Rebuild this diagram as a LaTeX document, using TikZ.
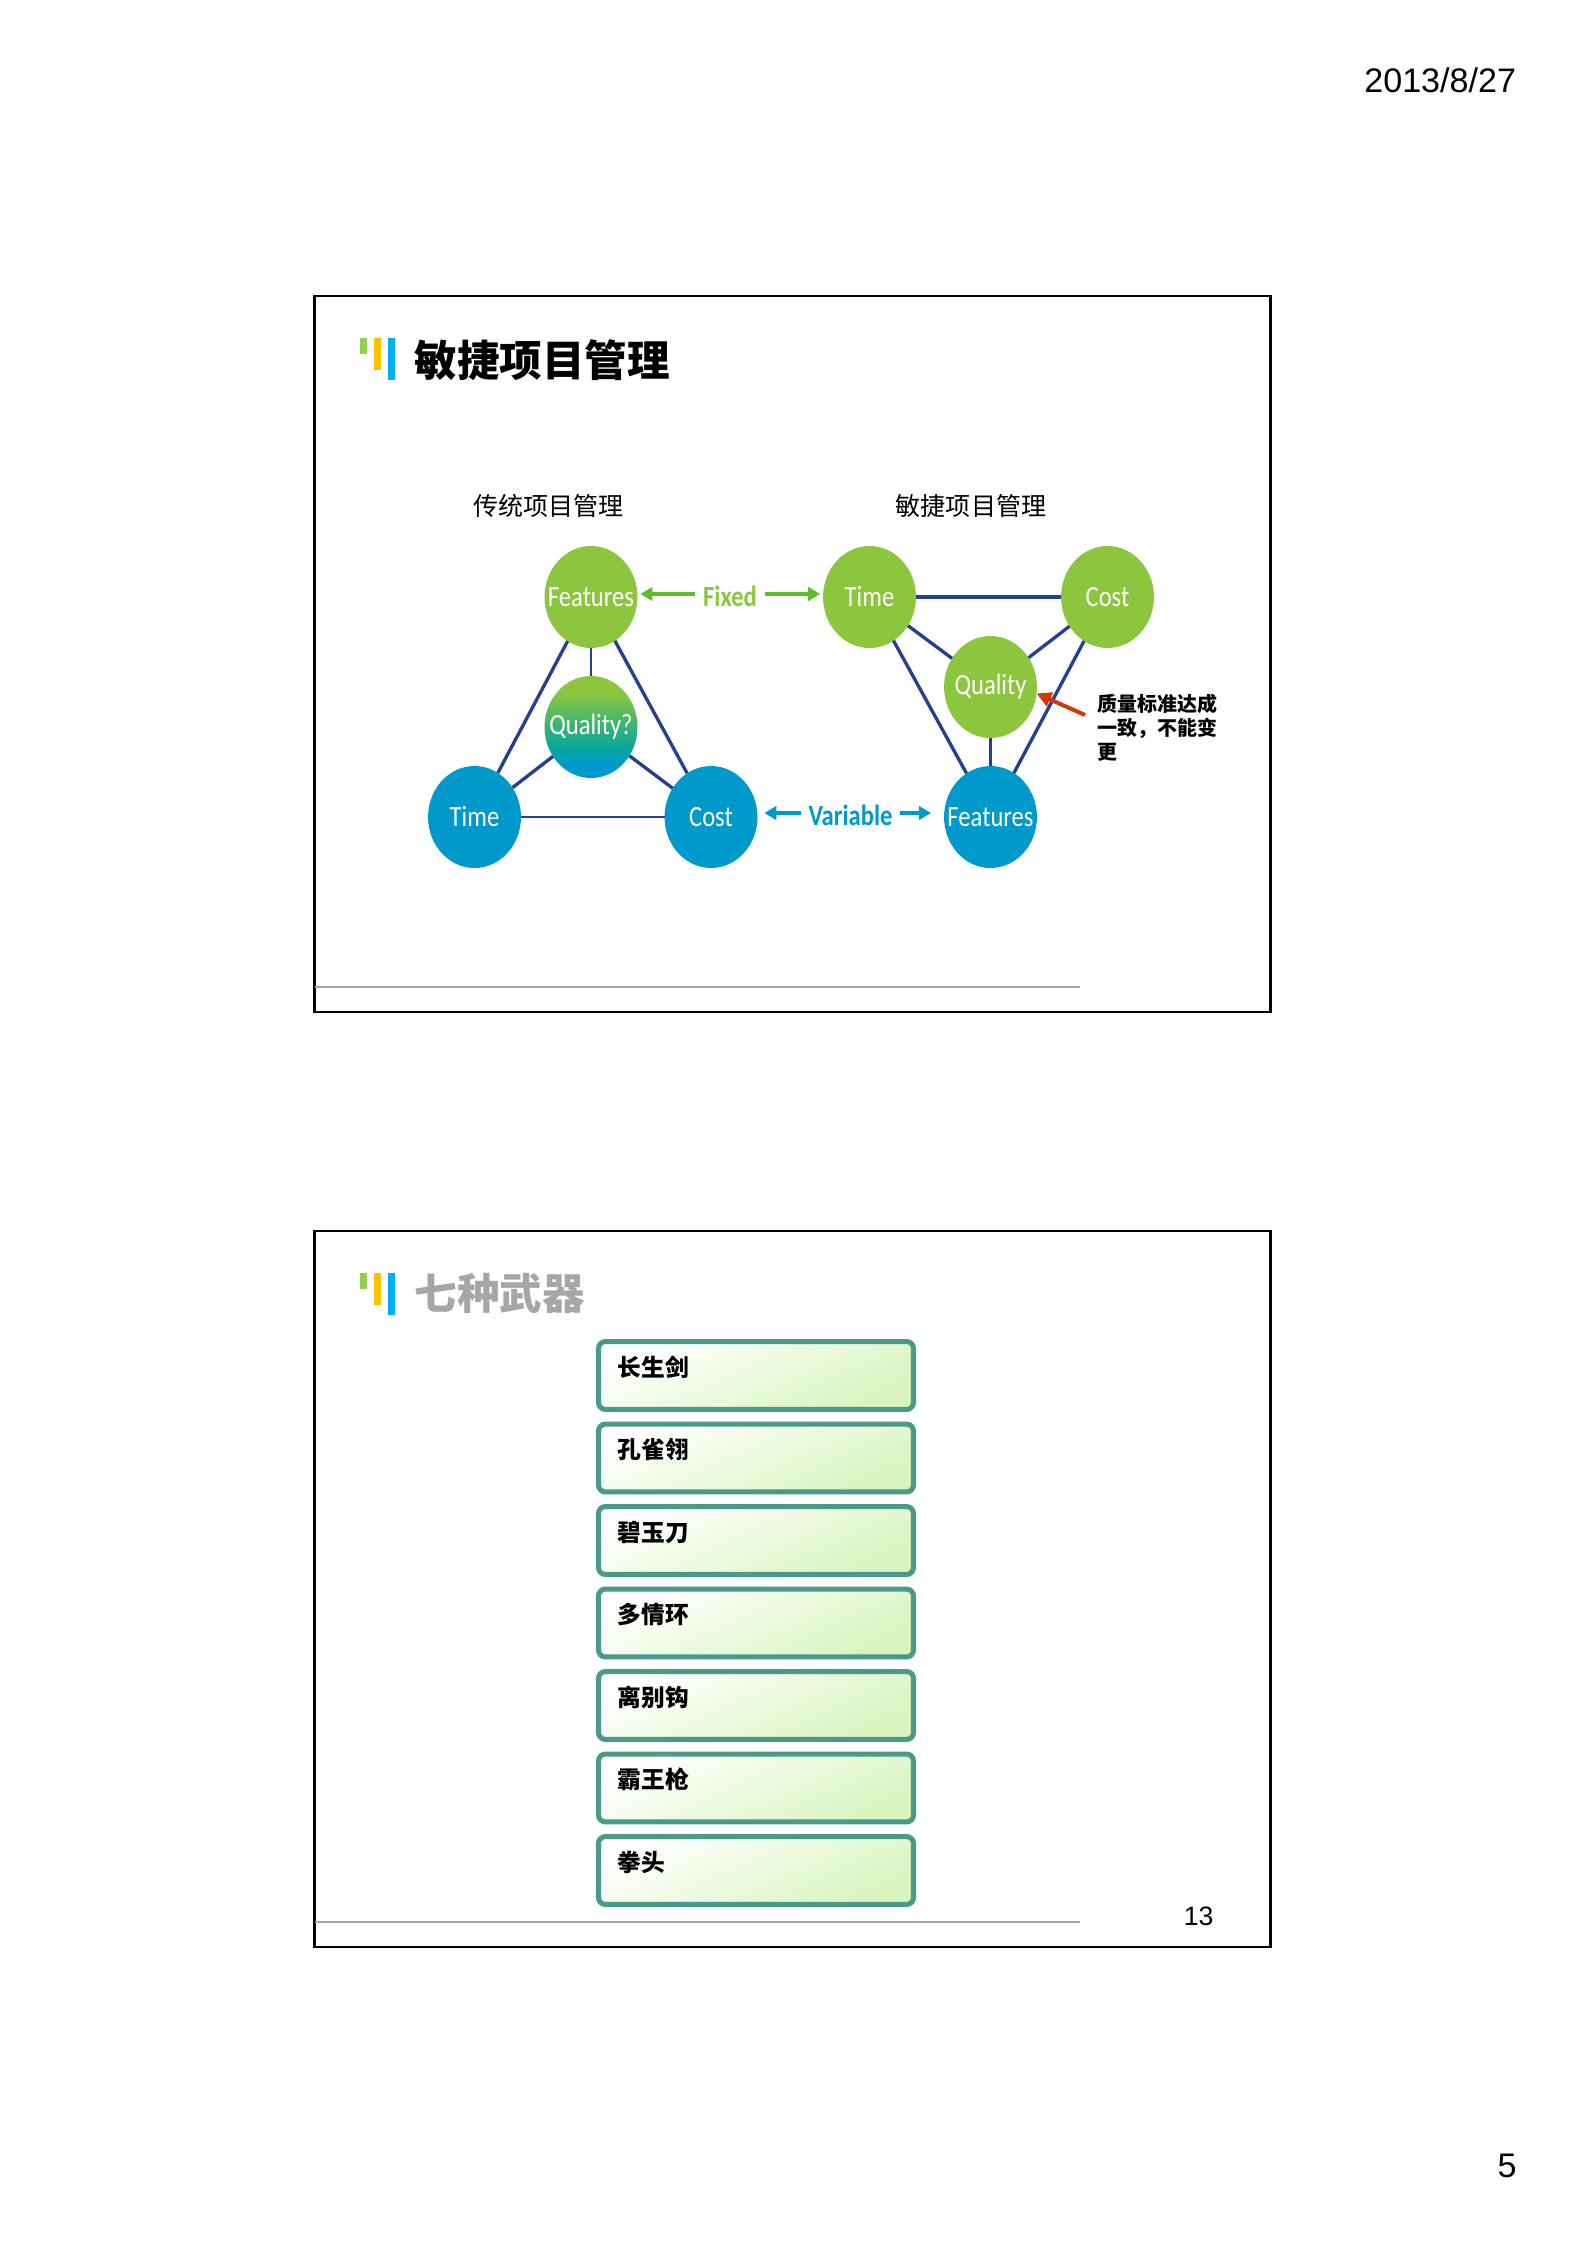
\documentclass[tikz,border=0pt]{standalone}
\usepackage{fontspec}
\setmainfont{Liberation Sans}
\newfontfamily\cjk{Noto Sans CJK SC}
\newfontfamily\circfont[FakeStretch=0.84]{Carlito}
\usetikzlibrary{shapes.geometric,arrows.meta}

\definecolor{leafgreen}{HTML}{8CC63F}
\definecolor{seablue}{HTML}{0099CC}
\definecolor{midteal}{HTML}{05A89A}
\definecolor{linkblue}{HTML}{24408E}
\definecolor{arrowgreen}{HTML}{5CBF2A}
\definecolor{arrowred}{HTML}{D03A0A}
\definecolor{boxedge}{HTML}{4A9A8A}
\definecolor{boxfill}{HTML}{D9F4BE}
\definecolor{rulegray}{HTML}{A6A6A6}
\definecolor{barone}{HTML}{92D050}
\definecolor{bartwo}{HTML}{FFC000}
\definecolor{barthree}{HTML}{00B0F0}
\pgfdeclareverticalshading{qualityshade}{100bp}{color(0bp)=(seablue); color(32bp)=(seablue); color(40bp)=(midteal); color(67bp)=(leafgreen); color(100bp)=(leafgreen)}
\newcommand{\balltext}[1]{\makebox[0pt][c]{#1}}

\tikzset{
  ball/.style={ellipse, minimum width=34.9pt, minimum height=38.3pt, inner sep=0pt, outer sep=0pt,
    text=white, font=\circfont\fontsize{11}{11}\selectfont},
  greenball/.style={ball, fill=leafgreen},
  blueball/.style={ball, fill=seablue},
  link/.style={draw=linkblue, line width=1.25pt},
  thinlink/.style={draw=linkblue, line width=0.85pt},
  caption/.style={font=\cjk\fontsize{9.4}{9.4}\selectfont, inner sep=0pt},
  tag/.style={font=\circfont\bfseries\fontsize{11}{11}\selectfont, text height=9.4pt, text depth=0pt, inner ysep=0pt},
  fixedarrow/.style={draw=arrowgreen, line width=1.25pt, -{Triangle[length=4.5pt,width=5pt]}},
  variablearrow/.style={draw=seablue, line width=1.25pt, -{Triangle[length=4.5pt,width=5pt]}},
  weapon/.style={draw=boxedge, line width=1.9pt, rounded corners=2.6pt, shading=axis, top color=white,
    bottom color=boxfill, shading angle=25, text width=103.7pt, inner xsep=7.3pt, inner ysep=0pt,
    minimum height=25.5pt, align=left, text height=4pt, text depth=3.6pt,
    font=\cjk\bfseries\fontsize{8.9}{8.9}\selectfont},
}

\begin{document}
\begin{tikzpicture}[x=0.3756pt,y=-0.3756pt]
  \useasboundingbox (0,0) rectangle (1585,2244);
  \fill [white] (0,0) rectangle (1585,2244);

  \node (datestamp) [anchor=base east, inner sep=0pt, font=\fontsize{12.8}{12.8}\selectfont] at (1516.5,92) {2013/8/27};
  \node (pagenum) [anchor=base east, inner sep=0pt, font=\fontsize{12.8}{12.8}\selectfont] at (1517,2177) {5};

  % the two slides share frame, colour bars and bottom rule
  \foreach \dy in {0,935} {
    \draw [line width=1.05pt] (314.5,296+\dy) rectangle (1270.5,1012+\dy);
    \draw [rulegray, line width=0.6pt] (315,987+\dy) -- (1080,987+\dy);
    \fill [barone] (360,338+\dy) rectangle (367,354+\dy);
    \fill [bartwo] (374,338+\dy) rectangle (381,370+\dy);
    \fill [barthree] (388,338+\dy) rectangle (395,380+\dy);
  }

  \node (titleA) [anchor=west, inner sep=0pt, font=\cjk\bfseries\fontsize{16}{16}\selectfont] at (414,360) {敏捷项目管理};
  \node (titleB) [anchor=west, inner sep=0pt, text=rulegray, font=\cjk\bfseries\fontsize{16}{16}\selectfont] at (414,1293) {七种武器};

  \node (captionA) [caption] at (548.5,506) {传统项目管理};
  \node (captionB) [caption] at (971,506) {敏捷项目管理};

  % left triangle
  \node (featuresA) [greenball] at (591,597) {\balltext{Features}};
  \node (qualityA) [ball, shading=qualityshade] at (591,727) {\balltext{Quality?}};
  \node (timeA) [blueball] at (474.5,817) {\balltext{Time}};
  \node (costA) [blueball] at (711,817) {\balltext{Cost}};
  \draw [link] (featuresA) -- (timeA);
  \draw [link] (featuresA) -- (costA);
  \draw [link] (qualityA) -- (timeA);
  \draw [link] (qualityA) -- (costA);
  \draw [thinlink] (featuresA) -- (qualityA);
  \draw [thinlink] (timeA) -- (costA);

  % right triangle
  \node (timeB) [greenball] at (869.5,597) {\balltext{Time}};
  \node (costB) [greenball] at (1107.5,597) {\balltext{Cost}};
  \node (qualityB) [greenball] at (990.5,687) {\balltext{Quality}};
  \node (featuresB) [blueball] at (990.5,817) {\balltext{Features}};
  \draw [draw=linkblue, line width=1.7pt] (timeB) -- (costB);
  \draw [link] (timeB) -- (featuresB);
  \draw [link] (costB) -- (featuresB);
  \draw [link] (timeB) -- (qualityB);
  \draw [link] (costB) -- (qualityB);
  \draw [link] (qualityB) -- (featuresB);

  % labels between the triangles, their arrows leave the label sideways
  \node (fixed) [tag, text=leafgreen, inner xsep=3pt] at (730,594) {Fixed};
  \draw [fixedarrow, shorten >=1.1pt] (fixed.west) -- (fixed.west -| featuresA.east);
  \draw [fixedarrow, shorten >=1.1pt] (fixed.east) -- (fixed.east -| timeB.west);
  \node (variable) [tag, text=seablue, inner xsep=2.8pt] at (850.5,813) {Variable};
  \draw [variablearrow, shorten >=2.6pt] (variable.west) -- (variable.west -| costA.east);
  \draw [variablearrow, shorten >=4.9pt] (variable.east) -- (variable.east -| featuresB.west);

  % red remark
  \node (remark) [anchor=north west, inner sep=0pt, align=left, font=\cjk\bfseries\fontsize{7.5}{9}\selectfont] at (1097,694) {质量标准达成\\一致，不能变\\更};
  \coordinate (remarkfoot) at (1085,715);
  \draw [draw=arrowred, line width=1.5pt, -{Triangle[length=5.5pt,width=5.5pt]}] (remarkfoot) -- (qualityB.-8);

  % seven boxes of the second slide
  \foreach \i/\weaponname in {0/长生剑,1/孔雀翎,2/碧玉刀,3/多情环,4/离别钩,5/霸王枪,6/拳头} {
    \node (weapon\i) [weapon] at (756,1375.5+82.5*\i) {\weaponname};
  }

  \node (slidenum) [anchor=base east, inner sep=0pt, font=\fontsize{10}{10}\selectfont] at (1214,1925) {13};
\end{tikzpicture}
\end{document}
